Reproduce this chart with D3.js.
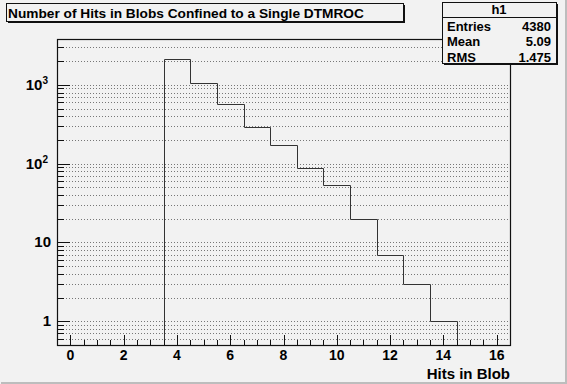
<!DOCTYPE html>
<html>
<head>
<meta charset="utf-8">
<script src="https://cdn.jsdelivr.net/npm/d3@7"></script>
<style>
body { margin:0; background:#f2f2f2; }
svg { display:block; font-family:"Liberation Sans", Arial, sans-serif; font-weight:bold; }
</style>
</head>
<body>
<svg id="graph1"></svg>
<script>
// histogram h1 : bin centres and contents
var binCenters = [4, 5, 6, 7, 8, 9, 10, 11, 12, 13, 14]
var binCounts = [2120, 1052, 570, 288, 175, 89, 54, 20, 7, 3, 1]
var xTicks = [0, 2, 4, 6, 8, 10, 12, 14, 16]
var yMajor = [1, 10, 100, 1000]
var yMajorLabels = ["1", "10", "10", "10"]
var yMajorSup = ["", "", "2", "3"]
var statLabels = ["Entries", "Mean", "RMS"]
var statValues = ["4380", "5.09", "1.475"]
var title = "Number of Hits in Blobs Confined to a Single DTMROC"
var xTitle = "Hits in Blob"

var screen = {width:567, height:384}
var frame = {left:57, right:510, top:39, bottom:345}

var svg = d3.select("#graph1")
    .attr("width", screen.width)
    .attr("height", screen.height)

// canvas bevel
svg.append("rect").attr("x",0).attr("y",0).attr("width",screen.width).attr("height",screen.height).attr("fill","#f2f2f2")
svg.append("path").attr("d","M1,383H566V0").attr("fill","none").attr("stroke","#bdbdbd").attr("stroke-width",2)

var xScale = d3.scaleLinear()
    .domain([-0.5, 16.5])
    .range([frame.left, frame.right])

var yScale = d3.scaleLog()
    .domain([0.5, 3820])
    .range([frame.bottom, frame.top])

// minor values for grid + ticks
var yMinor = []
for (var k = -1; k <= 3; k++) {
    for (var m = 1; m <= 9; m++) {
        var v = m * Math.pow(10, k)
        if (v >= 0.5 && v <= 3820 && yMajor.indexOf(v) < 0) yMinor.push(+v.toPrecision(3))
    }
}
var yAll = yMinor.concat(yMajor)

svg.append("g").selectAll("line")
    .data(yAll)
    .enter()
    .append("line")
    .attr("x1", frame.left)
    .attr("x2", frame.right)
    .attr("y1", function(d){ return Math.round(yScale(d)) + 0.5 })
    .attr("y2", function(d){ return Math.round(yScale(d)) + 0.5 })
    .attr("stroke", "#777")
    .attr("stroke-dasharray", "1,2")

// histogram outline
var edges = binCenters.map(function(c){ return c - 0.5 })
edges.push(binCenters[binCenters.length-1] + 0.5)
var pts = [[xScale(edges[0]), frame.bottom]]
binCounts.forEach(function(n, i) {
    pts.push([xScale(edges[i]), yScale(n)])
    pts.push([xScale(edges[i+1]), yScale(n)])
})
pts.push([xScale(edges[edges.length-1]), frame.bottom])
svg.append("path")
    .attr("d", d3.line().x(function(d){ return Math.round(d[0]) + 0.5 }).y(function(d){ return Math.round(d[1]) + 0.5 })(pts))
    .attr("fill", "none")
    .attr("stroke", "#333")
    .attr("stroke-width", 1)

// frame
svg.append("rect")
    .attr("x", frame.left + 0.5).attr("y", frame.top + 0.5)
    .attr("width", frame.right - frame.left).attr("height", frame.bottom - frame.top)
    .attr("fill", "none").attr("stroke", "#111").attr("stroke-width", 1.2)

// x ticks (inside, every 0.5)
var xMinor = d3.range(-0.5, 16.51, 0.5).filter(function(d){ return d > -0.5 && d < 16.5 })
svg.append("g").selectAll("line")
    .data(xMinor)
    .enter()
    .append("line")
    .attr("x1", function(d){ return Math.round(xScale(d)) + 0.5 })
    .attr("x2", function(d){ return Math.round(xScale(d)) + 0.5 })
    .attr("y1", frame.bottom)
    .attr("y2", function(d){ return frame.bottom - (d % 2 == 0 ? 10 : 5) })
    .attr("stroke", "#111")

svg.append("g").selectAll("text")
    .data(xTicks)
    .enter()
    .append("text")
    .attr("x", function(d){ return xScale(d) })
    .attr("y", 360)
    .attr("text-anchor", "middle")
    .attr("font-size", 14)
    .text(function(d){ return d })

// y ticks (inside)
svg.append("g").selectAll("line")
    .data(yAll)
    .enter()
    .append("line")
    .attr("x1", frame.left)
    .attr("x2", function(d){ return frame.left + (yMajor.indexOf(d) >= 0 ? 13 : 7) })
    .attr("y1", function(d){ return Math.round(yScale(d)) + 0.5 })
    .attr("y2", function(d){ return Math.round(yScale(d)) + 0.5 })
    .attr("stroke", "#111")

var yLab = svg.append("g").selectAll("text")
    .data(yMajor)
    .enter()
    .append("text")
    .attr("x", function(d, i){ return yMajorSup[i] ? 48 : 51 })
    .attr("y", function(d){ return yScale(d) + 5 })
    .attr("text-anchor", "end")
    .attr("font-size", 15)
yLab.append("tspan").text(function(d, i){ return yMajorLabels[i] })
yLab.append("tspan")
    .attr("dy", -6)
    .attr("font-size", 10)
    .text(function(d, i){ return yMajorSup[i] })

svg.append("text")
    .attr("x", frame.right)
    .attr("y", 379)
    .attr("text-anchor", "end")
    .attr("font-size", 15)
    .text(xTitle)

// title box
var drawBox = function(x, y, w, h) {
    svg.append("rect").attr("x", x + 2).attr("y", y + 2).attr("width", w).attr("height", h).attr("fill", "#111")
    svg.append("rect").attr("x", x + 0.5).attr("y", y + 0.5).attr("width", w).attr("height", h)
        .attr("fill", "#f2f2f2").attr("stroke", "#111")
}
drawBox(6, 3, 397, 18)
svg.append("text")
    .attr("x", 8)
    .attr("y", 18)
    .attr("font-size", 13.7)
    .text(title)

// stats box
drawBox(442, 2, 114, 61)
svg.append("line").attr("x1", 442).attr("x2", 556).attr("y1", 17.5).attr("y2", 17.5).attr("stroke", "#111")
svg.append("text").attr("x", 499).attr("y", 14).attr("text-anchor", "middle").attr("font-size", 13).text("h1")
statLabels.forEach(function(s, i) {
    svg.append("text").attr("x", 447).attr("y", 30.5 + i * 15.5).attr("font-size", 13).text(s)
    svg.append("text").attr("x", 551).attr("y", 30.5 + i * 15.5).attr("text-anchor", "end").attr("font-size", 13).text(statValues[i])
})
</script>
</body>
</html>
